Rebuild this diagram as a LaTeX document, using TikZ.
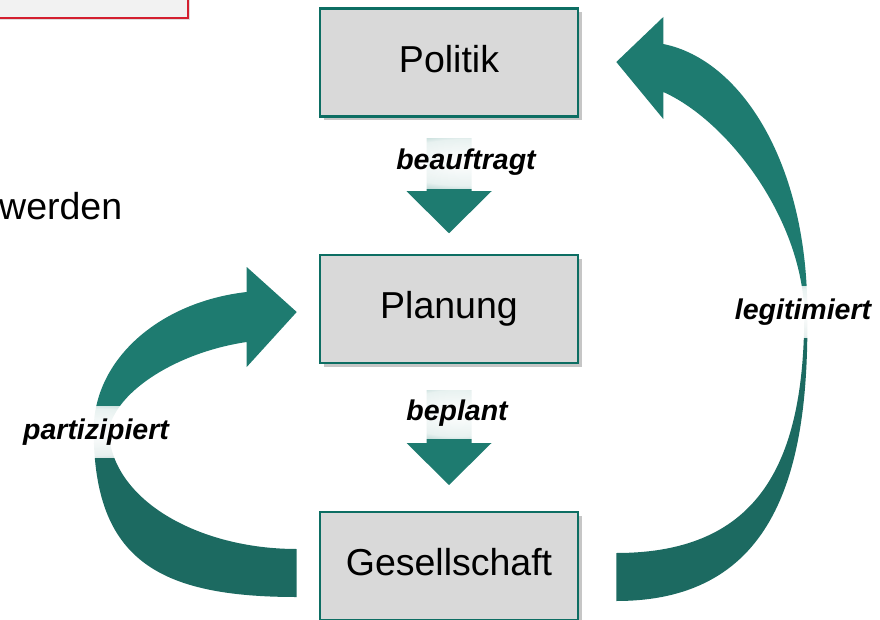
\documentclass[tikz,border=0pt]{standalone}
\usepackage{fontspec}
\setmainfont{Liberation Sans}
\usetikzlibrary{calc,shadows,fadings}
\definecolor{ribbontop}{HTML}{1E7B70}
\definecolor{ribbonlow}{HTML}{1C6A61}
\definecolor{boxline}{HTML}{0D6E63}
\definecolor{boxfill}{HTML}{D9D9D9}
\definecolor{slidered}{HTML}{D42030}
\pgfdeclareradialshading{glowshade}{\pgfpointorigin}{color(0bp)=(white); color(22bp)=(white!90!black); color(36bp)=(white!45!black); color(50bp)=(black)}
\pgfdeclarefading{labelglow}{\pgfuseshading{glowshade}}
\tikzset{
  stagebox/.style={draw=boxline, line width=2.6pt, fill=boxfill, minimum width=258, minimum height=108,
    inner sep=0pt, text height=27.5pt, text depth=8pt, font=\fontsize{37.5}{45}\selectfont,
    drop shadow={shadow xshift=3.5pt, shadow yshift=-4pt, opacity=0.45}},
  glowlabel/.style={inner xsep=12pt, inner ysep=13pt, font=\bfseries\itshape\fontsize{28.5}{34}\selectfont,
    preaction={fill=white, path fading=labelglow}}
}
\def\blockarrow(#1)(#2)(#3){%
  \coordinate (#3) at ($(#1.south)!0.5!(#2.north)$);
  \fill[ribbontop] ($(#3)+(-22.5,-47.5)$) -- ($(#3)+(22.5,-47.5)$) -- ($(#3)+(22.5,5.5)$)
    -- ($(#3)+(42.5,5.5)$) -- ($(#3)+(0,47.5)$) -- ($(#3)+(-42.5,5.5)$) -- ($(#3)+(-22.5,5.5)$) -- cycle;}

\begin{document}
\begin{tikzpicture}[x=1pt, y=-1pt]
	%%%%% START %%%%%
	\useasboundingbox (0,0) rectangle (880,620);
	
	\draw[slidered, line width=2.5pt, fill=black!5, drop shadow={shadow xshift=2pt, shadow yshift=-2pt, opacity=0.25}] (-10,-10) rectangle (188,18);
	\node[anchor=base west, inner sep=0pt, font=\fontsize{37.5}{45}\selectfont] (werden) at (-1,220) {werden};
	
	\node[stagebox] (politik) at (449,62.5) {Politik};
	\node[stagebox] (planung) at (449,309) {Planung};
	\node[stagebox] (gesellschaft) at (449,566) {Gesellschaft};
	
	\blockarrow(politik)(planung)(mida)
	\blockarrow(planung)(gesellschaft)(midb)
	
	% legitimiert, upper half
	\begin{scope}[shift={(politik.east)}]
		\fill[ribbontop] (84,-18.5) .. controls (163,-2.5) and (228,102.5) .. (228,249.5) -- (225,249.5)
			.. controls (222,155) and (148,58) .. (84,29.5) -- (84,56.5) -- (37,-0.5) -- (84,-45.5) -- cycle;
	\end{scope}
	% legitimiert, lower half
	\begin{scope}[shift={(gesellschaft.east)}]
		\fill[ribbonlow] (228,-254) .. controls (230,-96) and (197,35) .. (37,35) -- (37,-13)
			.. controls (182,-13) and (225,-106) .. (225,-254) -- cycle;
	\end{scope}
	
	% partizipiert, upper half
	\begin{scope}[shift={(planung.west)}]
		\fill[ribbontop] (-72,-17) .. controls (-160,-7) and (-225,51) .. (-225,121) -- (-210,121)
			.. controls (-202,81) and (-140,43) .. (-72,33) -- (-72,58) -- (-22,3) -- (-72,-42) -- cycle;
	\end{scope}
	% partizipiert, lower half
	\begin{scope}[shift={(gesellschaft.west)}]
		\fill[ribbonlow] (-225,-136) .. controls (-225,-6) and (-160,31) .. (-22,31) -- (-22,-17)
			.. controls (-120,-17) and (-208,-66) .. (-210,-136) -- cycle;
	\end{scope}
	
	\node[glowlabel] (beauftragt) at ($(mida)+(17,-23.5)$) {beauftragt};
	\node[glowlabel] (beplant) at ($(midb)+(8,-24.5)$) {beplant};
	\node[glowlabel] (legitimiert) at (803,312) {legitimiert};
	\node[glowlabel] (partizipiert) at (96,432) {partizipiert};
	
	%%%%% END %%%%%
\end{tikzpicture}
\end{document}
